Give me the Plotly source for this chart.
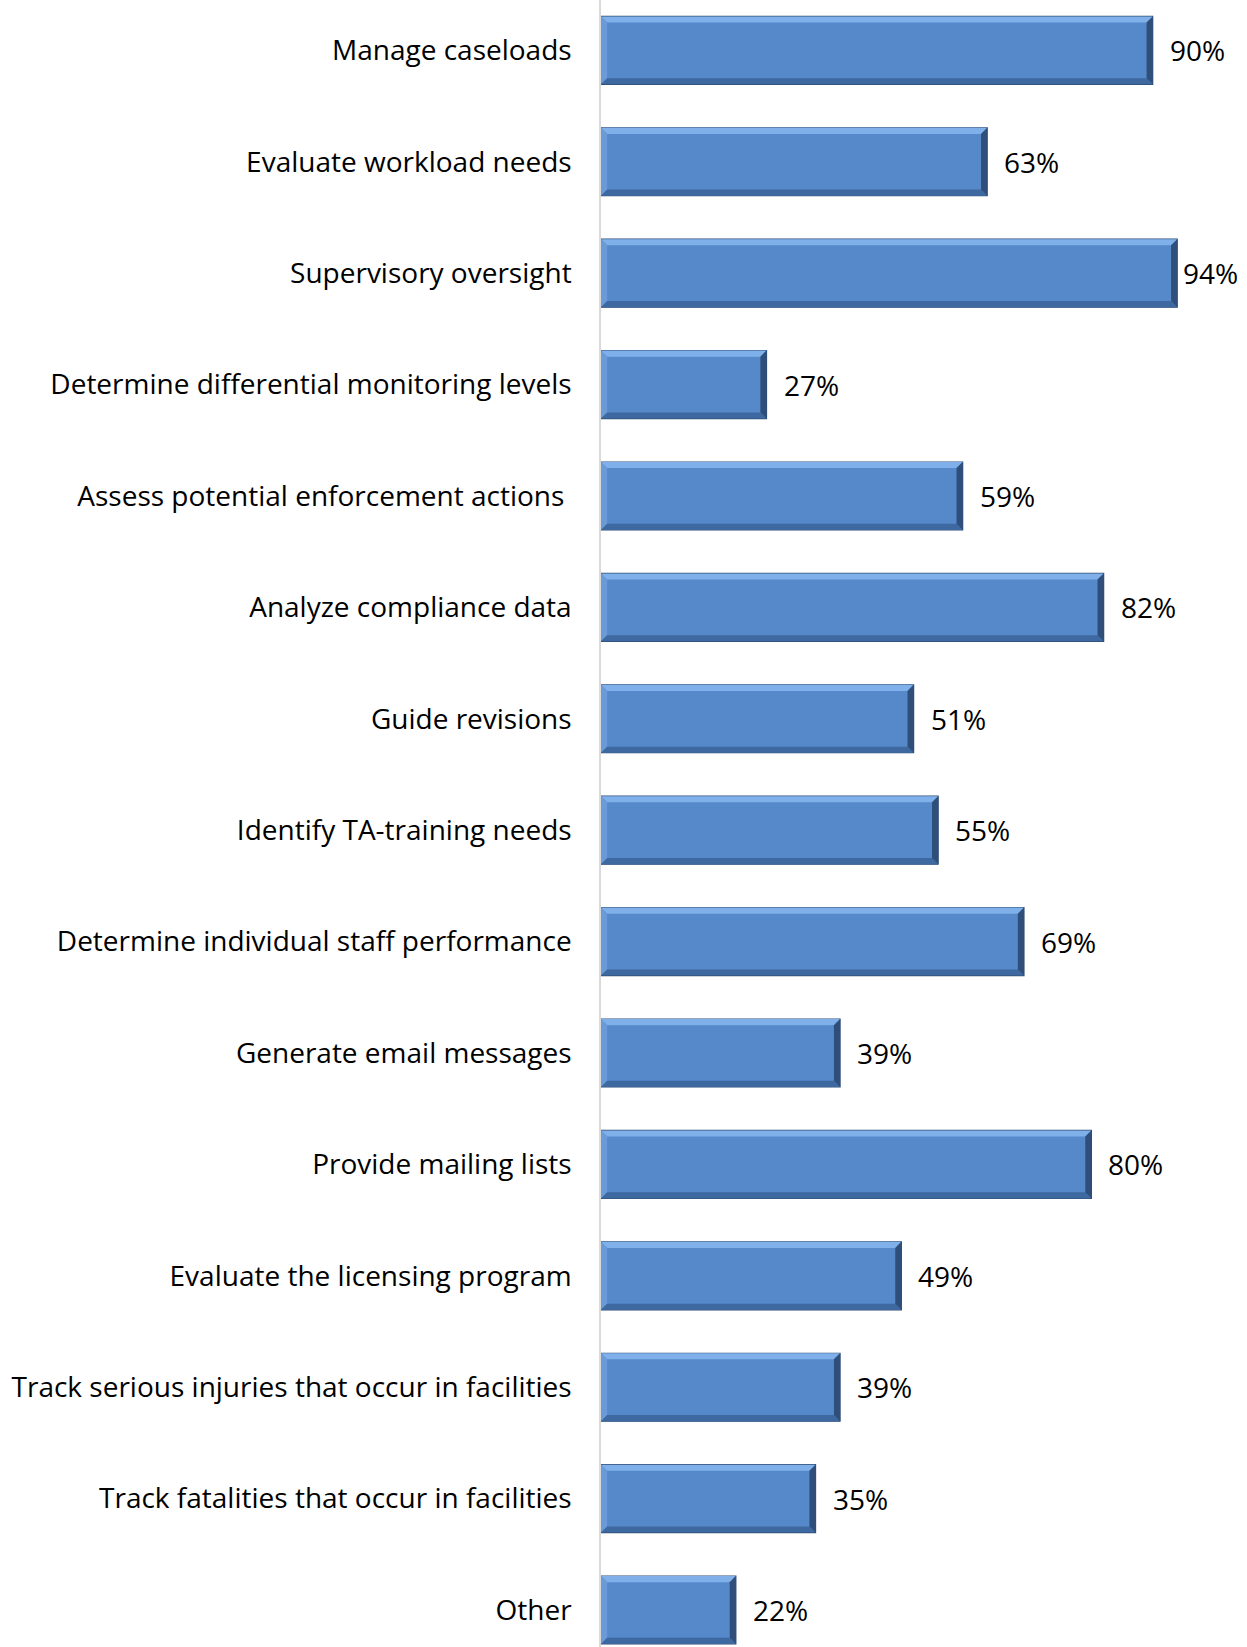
import plotly.graph_objects as go

# Survey responses: uses of the licensing data system
categories = [
    "Manage caseloads",
    "Evaluate workload needs",
    "Supervisory oversight",
    "Determine differential monitoring levels",
    "Assess potential enforcement actions\u00a0",
    "Analyze compliance data",
    "Guide revisions",
    "Identify TA-training needs",
    "Determine individual staff performance",
    "Generate email messages",
    "Provide mailing lists",
    "Evaluate the licensing program",
    "Track serious injuries that occur in facilities",
    "Track fatalities that occur in facilities",
    "Other",
]
percent = [90, 63, 94, 27, 59, 82, 51, 55, 69, 39, 80, 49, 39, 35, 22]

FONT = "Open Sans, sans-serif"
FSIZE = 28
BAR_W = 0.61
positions = list(range(len(categories)))

W, H = 1247, 1647
ML, MR = 601, 33
XMAX = 100
px_per_unit = (W - ML - MR) / XMAX
LABEL_W = 56          # approximate width of a "NN%" label in pixels
RIGHT_LIMIT = 1237    # keep labels inside the page

fig = go.Figure()
fig.add_trace(go.Bar(
    x=percent,
    y=positions,
    orientation="h",
    width=BAR_W,
    marker=dict(color="#5589CA", line=dict(color="#2E4C75", width=1.2)),
    hoverinfo="skip",
))

# Bevelled edges on each bar (light top/left, dark bottom/right)
bx, by = 1.0, 0.055
for yi, v in zip(positions, percent):
    t, b = yi - BAR_W / 2, yi + BAR_W / 2
    faces = [
        (f"M 0,{t} L {v},{t} L {v-bx},{t+by} L {bx},{t+by} Z", "#7FB0EA"),
        (f"M 0,{t} L {bx},{t+by} L {bx},{b-by} L 0,{b} Z", "#6A9BD8"),
        (f"M 0,{b} L {bx},{b-by} L {v-bx},{b-by} L {v},{b} Z", "#3E68A0"),
        (f"M {v},{t} L {v},{b} L {v-bx},{b-by} L {v-bx},{t+by} Z", "#2F4F7A"),
    ]
    for path, col in faces:
        fig.add_shape(type="path", path=path, xref="x", yref="y",
                      fillcolor=col, line=dict(width=0), layer="above")
    bar_end = ML + v * px_per_unit
    shift = min(15, RIGHT_LIMIT - LABEL_W - bar_end)
    fig.add_annotation(x=v, y=yi, text=f"{v}%", showarrow=False,
                       xanchor="left", yanchor="middle", xshift=shift,
                       font=dict(family=FONT, size=FSIZE, color="#000000"))

fig.update_layout(
    width=W,
    height=H,
    margin=dict(l=ML, r=MR, t=0, b=0),
    plot_bgcolor="white",
    paper_bgcolor="white",
    showlegend=False,
    xaxis=dict(range=[0, XMAX], visible=False, showgrid=False, zeroline=False),
    yaxis=dict(
        range=[14.332, -0.452],
        tickmode="array",
        tickvals=positions,
        ticktext=categories,
        showgrid=False,
        zeroline=False,
        showline=True,
        linecolor="#D9D9D9",
        linewidth=1.5,
        ticks="",
        ticklabelstandoff=22,
        tickfont=dict(family=FONT, size=FSIZE, color="#000000"),
    ),
)

fig.write_html("out.html")
